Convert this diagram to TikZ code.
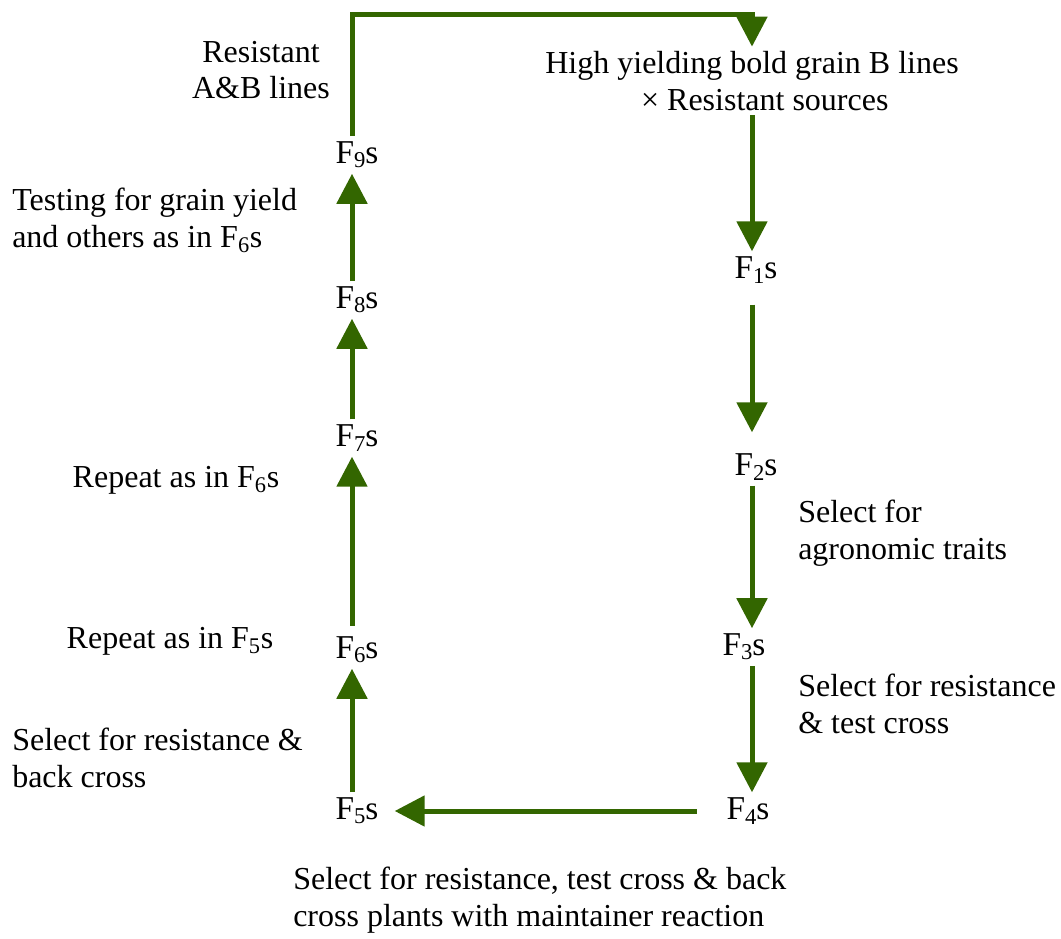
\documentclass[tikz,border=0pt]{standalone}
\usepackage{fontspec}
\setmainfont{Liberation Serif}
\usetikzlibrary{arrows.meta}
\definecolor{leaf}{RGB}{51,102,0}
\newcommand{\gsub}[1]{\raisebox{-0.28ex}{\fontsize{17}{17}\selectfont #1}}
\tikzset{
big/.style={font=\fontsize{24}{27.6}\selectfont},
gen/.style={font=\fontsize{25}{28}\selectfont, inner sep=4pt},
note/.style={big, align=left, inner sep=0pt, anchor=west},
flow/.style={draw=leaf, line width=3.75pt, -{Triangle[width=22.5pt,length=22.5pt]}},
}

\begin{document}
\begin{tikzpicture}[x=0.75pt, y=-0.75pt]
	\useasboundingbox (0,0) rectangle (1061,939);
	% the cycle of generations
	\node[big, align=center] at (752,81) (cross) {High yielding bold grain B lines\\\hspace*{0.8em}× Resistant sources};
	\node[gen] at (756,270) (f1) {F\gsub{1}s};
	\node[gen] at (756,467) (f2) {F\gsub{2}s};
	\node[gen] at (744,647) (f3) {F\gsub{3}s};
	\node[gen] at (748,811) (f4) {F\gsub{4}s};
	\node[gen] at (357,811) (f5) {F\gsub{5}s};
	\node[gen] at (357,650) (f6) {F\gsub{6}s};
	\node[gen] at (357,438) (f7) {F\gsub{7}s};
	\node[gen] at (357,300) (f8) {F\gsub{8}s};
	\node[gen] at (357,155) (f9) {F\gsub{9}s};
	\coordinate (colR) at (752,0);
	\coordinate (colL) at (352,0);
	\coordinate (corner) at (352,14);

	% notes
	\node[big, align=center] at (261,70) (rab) {Resistant\\A\&B lines};
	\node[note] at (12,220) (test) {Testing for grain yield\\and others as in F\textsubscript{6}s};
	\node[big, inner sep=0pt] at (176,480) (rep6) {Repeat as in F\textsubscript{6}s};
	\node[big, inner sep=0pt] at (170,641) (rep5) {Repeat as in F\textsubscript{5}s};
	\node[note] at (12,758) (back) {Select for resistance \&\\back cross};
	\node[note] at (798,533) (agro) {Select for\\agronomic traits};
	\node[note] at (798,704) (res) {Select for resistance\\\& test cross};
	\node[note] at (293,900) (maint) {Select for resistance, test cross \& back\\cross plants with maintainer reaction};

	\draw[flow] (cross.south -| colR) -- (f1.north -| colR);
	\draw[flow, shorten <=12pt, shorten >=12pt] (f1.south -| colR) -- (f2.north -| colR);
	\draw[flow] (f2.south -| colR) -- (f3.north -| colR);
	\draw[flow] (f3.south -| colR) -- (f4.north -| colR);
	\draw[flow, shorten <=18pt, shorten >=8pt] (f4) -- (f5);
	\draw[flow] (f5.north -| colL) -- (f6.south -| colL);
	\draw[flow, shorten <=4pt] (f6.north -| colL) -- (f7.south -| colL);
	\draw[flow] (f7.north -| colL) -- (f8.south -| colL);
	\draw[flow] (f8.north -| colL) -- (f9.south -| colL);
	\draw[flow] (f9.north -| colL) -- (corner) -| (cross.north -| colR);
\end{tikzpicture}
\end{document}
